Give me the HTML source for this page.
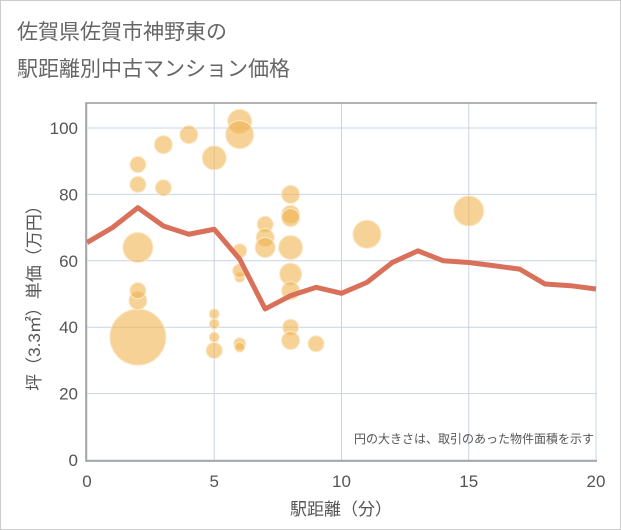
<!DOCTYPE html>
<html><head><meta charset="utf-8"><style>
body{margin:0;background:#fff;font-family:"Liberation Sans","Noto Sans CJK JP",sans-serif;}
#wrap{position:relative;width:619px;height:528px;border:1px solid #ccc;background:#fff}
</style></head><body>
<div id="wrap">
<svg id="chart" width="621" height="530" style="position:absolute;left:-1px;top:-1px">
<text x="17" y="39" font-size="21" fill="#666" font-family="Liberation Sans,Noto Sans CJK JP,sans-serif">佐賀県佐賀市神野東の</text>
<text x="17" y="76" font-size="21" fill="#666" font-family="Liberation Sans,Noto Sans CJK JP,sans-serif">駅距離別中古マンション価格</text>
<g id="grid"></g><g id="bubbles"></g><g id="line"></g><g id="axes"></g>
<text x="341" y="515" font-size="17" fill="#555" text-anchor="middle" font-family="Liberation Sans,Noto Sans CJK JP,sans-serif">駅距離（分）</text>
<text transform="translate(40,294) rotate(-90)" font-size="17" fill="#555" text-anchor="middle" font-family="Liberation Sans,Noto Sans CJK JP,sans-serif">坪（3.3㎡）単価（万円）</text>
<text x="594" y="443" font-size="12" fill="#555" text-anchor="end" font-family="Liberation Sans,Noto Sans CJK JP,sans-serif">円の大きさは、取引のあった物件面積を示す</text>
</svg>
</div>
<script>
const xTicks=[0,5,10,15,20];
const yTicks=[0,20,40,60,80,100];
const bubbleX=[2,2,2,2,2,2,3,3,4,5,6,6,5,5,5,5,6,6,6,6,6,7,7,7,8,8,8,8,8,8,8,8,9,11,15];
const bubbleY=[37,48,51,64,83,89,82,95,98,91,102,98,44,41,37,33,35,34,55,57,63,71,67,64,80,74,73,64,56,51,40,36,35,68,75];
const bubbleR=[28,9,8,15,8,8,8,9,9,12,12,14,5,5,5,8,6,5,5,7,7,8,9,10,9,9,9,12,11,9,8,9,8,14,15];
const lineX=[0,1,2,3,4,5,6,7,8,9,10,11,12,13,14,15,16,17,18,19,20];
const lineY=[65.5,70,76,70.5,68,69.5,60.5,45.5,49.5,52,50.2,53.5,59.5,63,60,59.5,58.5,57.5,53,52.5,51.5];
const L=86,R=597,T=103,B=461;
const xs=v=>87+v*(596-87)/20;
const ys=v=>460-v*(460-128)/100;
const NS="http://www.w3.org/2000/svg";
function mk(tag,attrs,parent){const e=document.createElementNS(NS,tag);for(const k in attrs)e.setAttribute(k,attrs[k]);parent.appendChild(e);return e;}
const grid=document.getElementById('grid'),axes=document.getElementById('axes');
xTicks.forEach(t=>{
 const l=mk('line',{x1:xs(t),x2:xs(t),y1:T,y2:B,stroke:'#c8d4e3','stroke-width':1},grid);
 
 
 const tx=mk('text',{x:xs(t),y:487,'font-size':17,fill:'#555','text-anchor':'middle'},axes);
 tx.textContent=t;
 
 
});
yTicks.forEach(t=>{
 const l=mk('line',{x1:L,x2:R,y1:ys(t),y2:ys(t),stroke:'#c8d4e3','stroke-width':1},grid);
 
 
 const tx=mk('text',{x:78,y:ys(t)+6,'font-size':17,fill:'#555','text-anchor':'end'},axes);
 tx.textContent=t;
 
 
});
const fr=mk('path',{d:`M${R},${T} L${L},${T} L${L},${B} L${R},${B}`,fill:'none',stroke:'#999','stroke-width':1.5},axes);


const bg=document.getElementById('bubbles');
bubbleX.forEach((x,i)=>{
 const c=mk('circle',{cx:xs(x),cy:ys(bubbleY[i]),r:bubbleR[i],fill:'rgba(240,180,80,0.6)',stroke:'#fbe8c8','stroke-width':1},bg);
 
 
});
const pts=lineX.map((x,i)=>xs(x)+','+ys(lineY[i])).join(' ');
const pl=mk('polyline',{points:pts,fill:'none',stroke:'#d9705a','stroke-width':5,'stroke-linejoin':'round'},document.getElementById('line'));


</script>
</body></html>
